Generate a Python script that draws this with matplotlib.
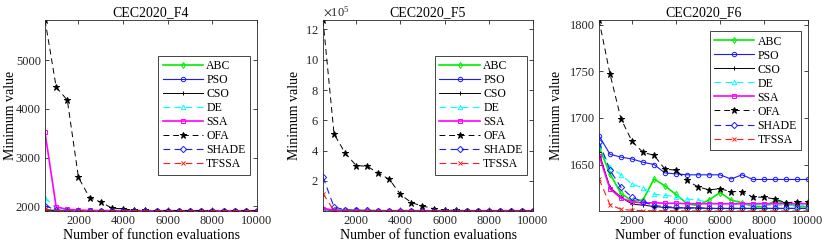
import matplotlib
matplotlib.use("Agg")
import matplotlib.pyplot as plt
from matplotlib.ticker import ScalarFormatter

plt.rcParams['font.family'] = ['Liberation Serif', 'DejaVu Serif']
plt.rcParams['mathtext.fontset'] = 'stix'

# evaluations
evals = [500, 1000, 1500, 2000, 2500, 3000, 3500, 4000, 4500, 5000,
         5500, 6000, 6500, 7000, 7500, 8000, 8500, 9000, 9500, 10000]
algos = ["ABC", "PSO", "CSO", "DE", "SSA", "OFA", "SHADE", "TFSSA"]

# CEC2020_F4
f4_abc = [1915, 1908, 1906, 1905, 1905, 1905, 1904, 1904, 1904, 1904, 1904, 1904, 1904, 1904, 1904, 1904, 1904, 1904, 1904, 1904]
f4_pso = [1910, 1906, 1905, 1905, 1905, 1905, 1905, 1905, 1905, 1905, 1905, 1905, 1905, 1905, 1905, 1905, 1905, 1905, 1905, 1905]
f4_cso = [1925, 1907, 1905, 1904, 1904, 1904, 1904, 1904, 1904, 1904, 1904, 1904, 1904, 1904, 1904, 1904, 1904, 1904, 1904, 1904]
f4_de = [2175, 1950, 1915, 1908, 1906, 1905, 1905, 1905, 1905, 1905, 1905, 1905, 1905, 1905, 1905, 1905, 1905, 1905, 1905, 1905]
f4_ssa = [3520, 1985, 1935, 1920, 1912, 1910, 1909, 1908, 1908, 1907, 1907, 1907, 1907, 1907, 1907, 1907, 1907, 1907, 1907, 1907]
f4_ofa = [5828, 4450, 4180, 2590, 2175, 2085, 1960, 1945, 1915, 1912, 1910, 1910, 1908, 1908, 1907, 1907, 1906, 1906, 1906, 1906]
f4_shade = [2010, 1920, 1910, 1906, 1905, 1904, 1904, 1904, 1904, 1904, 1904, 1904, 1904, 1904, 1904, 1904, 1904, 1904, 1904, 1904]
f4_tfssa = [1935, 1905, 1903, 1902, 1902, 1901, 1901, 1901, 1901, 1901, 1901, 1901, 1901, 1901, 1901, 1901, 1901, 1901, 1901, 1901]

# CEC2020_F5
f5_abc = [12000, 6000, 4500, 3800, 3400, 3000, 2800, 2700, 2600, 2500, 2400, 2350, 2300, 2250, 2200, 2200, 2150, 2100, 2100, 2100]
f5_pso = [16000, 8000, 6000, 5500, 5200, 5000, 5000, 5000, 5000, 5000, 5000, 5000, 5000, 5000, 5000, 5000, 5000, 5000, 5000, 5000]
f5_cso = [14000, 5000, 4000, 3500, 3300, 3200, 3100, 3000, 3000, 3000, 3000, 3000, 3000, 3000, 3000, 3000, 3000, 3000, 3000, 3000]
f5_de = [20000, 9000, 6000, 5000, 4500, 4000, 3900, 3800, 3700, 3600, 3600, 3500, 3500, 3500, 3500, 3500, 3500, 3500, 3500, 3500]
f5_ssa = [18000, 7000, 5000, 4500, 4200, 4000, 4000, 4000, 4000, 4000, 4000, 4000, 4000, 4000, 4000, 4000, 4000, 4000, 4000, 4000]
f5_ofa = [1262000, 510000, 385000, 302000, 297000, 252000, 211000, 112000, 57000, 35000, 18000, 8000, 6000, 5000, 4500, 4000, 3800, 3500, 3300, 3200]
f5_shade = [226000, 28000, 10000, 7000, 6000, 5000, 4800, 4600, 4500, 4400, 4300, 4300, 4300, 4300, 4300, 4300, 4300, 4300, 4300, 4300]
f5_tfssa = [117000, 3000, 2500, 2300, 2200, 2100, 2050, 2000, 2000, 2000, 2000, 2000, 2000, 2000, 2000, 2000, 2000, 2000, 2000, 2000]

# CEC2020_F6
f6_abc = [1669, 1640, 1619, 1611, 1612, 1634.5, 1627, 1618, 1608, 1606, 1612, 1620, 1612, 1609, 1605, 1605, 1611, 1608.5, 1605, 1605]
f6_pso = [1681, 1661, 1658, 1656, 1652.5, 1650, 1641, 1640, 1639, 1639, 1639, 1639, 1634.5, 1639, 1634, 1634, 1634, 1634, 1634, 1634]
f6_cso = [1663, 1625.5, 1615, 1607.5, 1606.5, 1605, 1604, 1603.5, 1603.5, 1603.5, 1603, 1603, 1603, 1603, 1603, 1603, 1603, 1603, 1603, 1603]
f6_de = [1672, 1647, 1639, 1629, 1625, 1618, 1617, 1615.5, 1613, 1612, 1609, 1608, 1607.5, 1607, 1607, 1606.5, 1606.5, 1606, 1606, 1606]
f6_ssa = [1659.7, 1624, 1614, 1610, 1609, 1609, 1608.5, 1608.5, 1608, 1608, 1608, 1608, 1608, 1608, 1608, 1608, 1608, 1608, 1608, 1608]
f6_ofa = [1805, 1747, 1699, 1675, 1663, 1660, 1645, 1644, 1633, 1626, 1623, 1624, 1621, 1621, 1615, 1615, 1613, 1609, 1610, 1610]
f6_shade = [1674, 1644, 1625.5, 1615, 1610, 1606, 1605, 1604, 1603.5, 1603.5, 1603, 1603, 1603, 1603, 1603, 1603, 1603, 1603, 1603, 1603]
f6_tfssa = [1634.5, 1607, 1602, 1601, 1600.5, 1600.5, 1600.5, 1600.3, 1600.3, 1600.3, 1600.2, 1600.2, 1600.2, 1600.2, 1600.2, 1600.2, 1600.2, 1600.2, 1600.2, 1600.2]

panels = [
    ("CEC2020_F4", [f4_abc, f4_pso, f4_cso, f4_de, f4_ssa, f4_ofa, f4_shade, f4_tfssa]),
    ("CEC2020_F5", [f5_abc, f5_pso, f5_cso, f5_de, f5_ssa, f5_ofa, f5_shade, f5_tfssa]),
    ("CEC2020_F6", [f6_abc, f6_pso, f6_cso, f6_de, f6_ssa, f6_ofa, f6_shade, f6_tfssa]),
]

# color, marker, dashed?, filled marker?, linewidth
styles = {
    "ABC": ("#00ee00", "d", False, False, 1.2),
    "PSO": ("#1a1aff", "o", False, False, 0.8),
    "CSO": ("black", "+", False, False, 0.7),
    "DE": ("#00ffff", "^", True, False, 0.8),
    "SSA": ("#ff00ff", "s", False, False, 1.2),
    "OFA": ("black", "*", True, True, 0.7),
    "SHADE": ("#1a1aff", "D", True, False, 0.8),
    "TFSSA": ("#ff1a1a", "x", True, False, 0.8),
}

W, H = 830, 248
boxes = [(45, 20, 257, 211), (323, 20, 533, 211), (599, 20, 808, 211)]
leg_pos = [(0.535, 0.81), (0.535, 0.81), (0.53, 0.94)]
ylab_x = [-0.13, -0.105, -0.17]

fig = plt.figure(figsize=(8.3, 2.48), dpi=100)

for (title, series), (l, t, r, b), lp, yx in zip(panels, boxes, leg_pos, ylab_x):
    ax = fig.add_axes([l / W, 1 - b / H, (r - l) / W, (b - t) / H])
    for name, y in zip(algos, series):
        c, m, dashed, filled, lw = styles[name]
        ax.plot(evals, y, color=c, marker=m, markersize=3.2 if m != "*" else 4.5,
                markerfacecolor=c if filled else "none", markeredgewidth=0.7,
                linewidth=lw, linestyle=(0, (6, 4)) if dashed else "-",
                label=name)
    allv = [v for s in series for v in s]
    ax.set_xlim(500, 10000)
    ax.set_ylim(min(allv), max(allv))
    ax.set_xticks([2000, 4000, 6000, 8000, 10000])
    ax.set_title(title, fontsize=10, pad=3)
    ax.set_xlabel("Number of function evaluations", fontsize=10, labelpad=1)
    ax.set_ylabel("Minimum value", fontsize=10)
    ax.yaxis.set_label_coords(yx, 0.5)
    ax.tick_params(direction="in", top=True, right=True, labelsize=9,
                   length=3, width=0.6, colors="#262626", pad=3)
    for sp in ax.spines.values():
        sp.set_color("#262626")
        sp.set_linewidth(0.6)
    if title == "CEC2020_F5":
        fmt = ScalarFormatter(useMathText=True)
        fmt.set_powerlimits((5, 5))
        ax.yaxis.set_major_formatter(fmt)
        ax.set_yticks([200000, 400000, 600000, 800000, 1000000, 1200000])
        ax.yaxis.get_offset_text().set_fontsize(9)
    leg = ax.legend(loc="upper left", bbox_to_anchor=lp, fontsize=8.5,
                    handlelength=3.4, labelspacing=0.17, borderpad=0.35,
                    handletextpad=0.3, fancybox=False, framealpha=1,
                    edgecolor="#262626", borderaxespad=0)
    leg.get_frame().set_linewidth(0.6)

fig.savefig("out.png", dpi=100)
